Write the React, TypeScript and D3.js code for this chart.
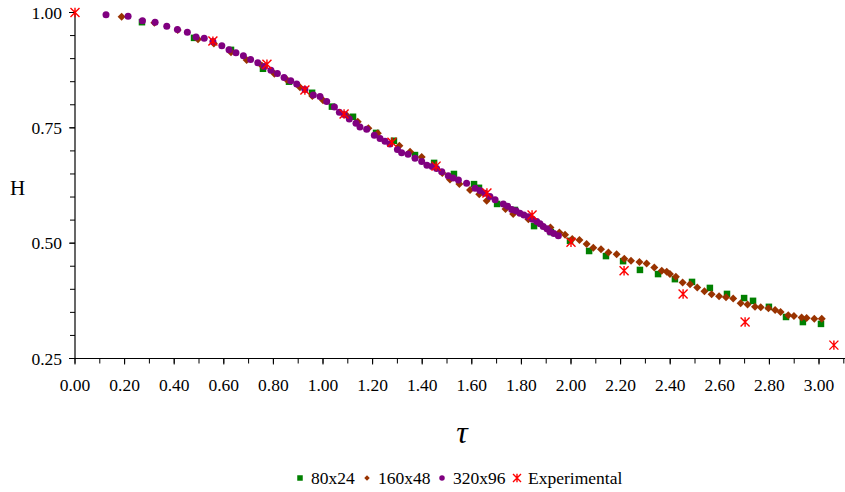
import React from "react";
import * as d3 from "d3";

// ---- Data ----
const tau80 = [0.270, 0.480, 0.629, 0.758, 0.863, 0.956, 1.036, 1.121, 1.214, 1.286, 1.371, 1.448, 1.528, 1.609, 1.629, 1.702, 1.774, 1.851, 1.919, 1.996, 2.073, 2.141, 2.210, 2.278, 2.351, 2.419, 2.488, 2.560, 2.629, 2.698, 2.734, 2.798, 2.867, 2.935, 3.008];
const h80 = [0.979, 0.945, 0.919, 0.878, 0.850, 0.826, 0.796, 0.774, 0.739, 0.722, 0.691, 0.674, 0.650, 0.628, 0.620, 0.585, 0.572, 0.537, 0.524, 0.505, 0.483, 0.472, 0.461, 0.442, 0.433, 0.422, 0.416, 0.403, 0.390, 0.381, 0.375, 0.362, 0.340, 0.329, 0.325];

const tau160 = [0.188, 0.320, 0.414, 0.496, 0.560, 0.629, 0.692, 0.753, 0.804, 0.854, 0.907, 0.957, 1.000, 1.096, 1.140, 1.183, 1.221, 1.308, 1.351, 1.398, 1.481, 1.512, 1.550, 1.593, 1.630, 1.660, 1.736, 1.767, 1.828, 1.917, 1.953,
  1.976, 2.005, 2.034, 2.063, 2.090, 2.121, 2.151, 2.184, 2.215, 2.242, 2.276, 2.305, 2.336, 2.366, 2.386, 2.399, 2.423, 2.450, 2.480, 2.509, 2.538, 2.567, 2.597, 2.625, 2.654, 2.684, 2.712, 2.742, 2.765, 2.796, 2.823, 2.845, 2.876, 2.899, 2.930, 2.950, 2.981, 3.011];
const h160 = [0.991, 0.978, 0.962, 0.942, 0.933, 0.914, 0.897, 0.885, 0.867, 0.854, 0.838, 0.819, 0.810, 0.777, 0.763, 0.749, 0.738, 0.711, 0.698, 0.687, 0.652, 0.638, 0.628, 0.615, 0.606, 0.592, 0.574, 0.563, 0.552, 0.534, 0.523,
  0.518, 0.509, 0.507, 0.498, 0.490, 0.487, 0.480, 0.476, 0.466, 0.462, 0.459, 0.456, 0.447, 0.440, 0.438, 0.433, 0.427, 0.415, 0.411, 0.404, 0.396, 0.389, 0.385, 0.383, 0.380, 0.370, 0.367, 0.362, 0.361, 0.359, 0.355, 0.351, 0.344, 0.342, 0.339, 0.338, 0.336, 0.336];

const tau320 = [0.125, 0.214, 0.272, 0.323, 0.370, 0.413, 0.453, 0.488, 0.521, 0.556, 0.592, 0.621, 0.649, 0.679, 0.708, 0.737, 0.764, 0.790, 0.816, 0.843, 0.870, 0.894, 0.927, 0.961, 0.988, 1.015, 1.046, 1.066, 1.085, 1.106, 1.133, 1.149, 1.176, 1.207, 1.230, 1.250, 1.270, 1.300, 1.317, 1.343, 1.371, 1.398, 1.419, 1.440, 1.458, 1.479, 1.505, 1.525, 1.546, 1.579, 1.613, 1.633, 1.653, 1.673, 1.694, 1.727, 1.744, 1.761, 1.778, 1.794, 1.810, 1.828, 1.845, 1.862, 1.875, 1.888, 1.903, 1.915, 1.931, 1.949];
const h320 = [0.995, 0.992, 0.982, 0.979, 0.970, 0.963, 0.957, 0.947, 0.944, 0.937, 0.928, 0.919, 0.913, 0.906, 0.898, 0.891, 0.883, 0.875, 0.868, 0.859, 0.852, 0.845, 0.833, 0.821, 0.818, 0.807, 0.795, 0.784, 0.779, 0.769, 0.760, 0.752, 0.747, 0.734, 0.727, 0.721, 0.715, 0.703, 0.696, 0.693, 0.684, 0.677, 0.669, 0.666, 0.662, 0.655, 0.646, 0.641, 0.637, 0.630, 0.619, 0.614, 0.608, 0.601, 0.594, 0.585, 0.580, 0.573, 0.570, 0.565, 0.561, 0.557, 0.552, 0.547, 0.542, 0.536, 0.531, 0.525, 0.521, 0.516];

const tauExp = [0.0, 0.556, 0.774, 0.927, 1.085, 1.278, 1.456, 1.661, 1.843, 2.0, 2.214, 2.452, 2.702, 3.06];
const hExp = [1.0, 0.938, 0.888, 0.832, 0.780, 0.719, 0.667, 0.609, 0.561, 0.502, 0.440, 0.390, 0.329, 0.279];

const xTicks = d3.range(0, 16).map((i) => i * 0.2);
const xMinorTicks = d3.range(0, 32).map((i) => i * 0.1);
const yTicks = [0.25, 0.5, 0.75, 1.0];
const yMinorTicks = d3.range(0, 16).map((i) => 0.25 + i * 0.05);

const legendItems = [
  { key: "80x24", label: "80x24", color: "#008000", shape: "square" },
  { key: "160x48", label: "160x48", color: "#993300", shape: "diamond" },
  { key: "320x96", label: "320x96", color: "#800080", shape: "circle" },
  { key: "exp", label: "Experimental", color: "#FF0000", shape: "star" },
];

const W = 845;
const H = 492;
const FONT = '"Liberation Serif", "Times New Roman", Times, "DejaVu Serif", serif';
const TXT = { fontFamily: FONT } as React.CSSProperties;
const FS = 17.5;

function Marker({ shape, color, x, y, s }: { shape: string; color: string; x: number; y: number; s: number }) {
  if (shape === "square") {
    return <rect x={x - s / 2} y={y - s / 2} width={s} height={s} fill={color} />;
  }
  if (shape === "diamond") {
    const r = s / 2;
    return <path d={`M${x},${y - r}L${x + r},${y}L${x},${y + r}L${x - r},${y}Z`} fill={color} />;
  }
  if (shape === "circle") {
    return <circle cx={x} cy={y} r={s / 2} fill={color} />;
  }
  const r = s / 2;
  return (
    <path
      d={`M${x - r},${y - r}L${x + r},${y + r}M${x - r},${y + r}L${x + r},${y - r}M${x},${y - r * 1.05}L${x},${y + r * 1.05}`}
      stroke={color}
      strokeWidth={1.4}
      fill="none"
    />
  );
}

export default function App() {
  const x = d3.scaleLinear().domain([0, 3.1]).range([75, 75 + 3.1 * 248]);
  const y = d3.scaleLinear().domain([0.25, 1.0]).range([358.5, 12.5]);
  const x0 = x(0);
  const yb = y(0.25);

  const series = [
    { t: tau80, h: h80, shape: "square", color: "#008000", s: 6.5 },
    { t: tau160, h: h160, shape: "diamond", color: "#993300", s: 8 },
    { t: tau320, h: h320, shape: "circle", color: "#800080", s: 7 },
    { t: tauExp, h: hExp, shape: "star", color: "#FF0000", s: 9 },
  ];

  return (
    <svg width={W} height={H} style={{ position: "absolute", left: 0, top: 0, background: "#fff" }}>
      <rect width={W} height={H} fill="#fff" />
      {/* Y axis */}
      <line x1={x0} x2={x0} y1={y(1.0)} y2={yb} stroke="#000" strokeWidth={1.2} />
      {yMinorTicks.map((v, i) => (
        <line key={"ym" + i} x1={x0 - 5} x2={x0} y1={y(v)} y2={y(v)} stroke="#000" strokeWidth={1} />
      ))}
      {yTicks.map((v) => (
        <g key={"y" + v}>
          <line x1={x0 - 6} x2={x0} y1={y(v)} y2={y(v)} stroke="#000" strokeWidth={1} />
          <text x={62} y={y(v)} dy="0.35em" textAnchor="end" fontSize={FS} fill="#000" style={TXT}>
            {d3.format(".2f")(v)}
          </text>
        </g>
      ))}
      {/* X axis */}
      <line x1={x0} x2={W} y1={yb} y2={yb} stroke="#000" strokeWidth={1.2} />
      {xMinorTicks.map((v, i) => (
        <line key={"xm" + i} x1={x(v)} x2={x(v)} y1={yb} y2={yb + 5} stroke="#000" strokeWidth={1} />
      ))}
      {xTicks.map((v, i) => (
        <g key={"x" + i}>
          <line x1={x(v)} x2={x(v)} y1={yb} y2={yb + 6} stroke="#000" strokeWidth={1} />
          <text x={x(v)} y={391} textAnchor="middle" fontSize={FS} fill="#000" style={TXT}>
            {d3.format(".2f")(v)}
          </text>
        </g>
      ))}
      {/* Axis titles */}
      <text x={17.5} y={195} textAnchor="middle" fontSize={21} fill="#000" style={TXT}>H</text>
      <text x={462} y={443} textAnchor="middle" fontSize={32} fontStyle="italic" fill="#000" style={TXT}>τ</text>
      {/* Data */}
      {series.map((sr, si) => (
        <g key={"s" + si}>
          {sr.t.map((t, i) => (
            <Marker key={i} shape={sr.shape} color={sr.color} x={x(t)} y={y(sr.h[i])} s={sr.s} />
          ))}
        </g>
      ))}
      {/* Legend */}
      {legendItems.map((it, i) => {
        const mx = [300, 367, 442, 517][i];
        return (
          <g key={it.key}>
            <Marker shape={it.shape} color={it.color} x={mx} y={478} s={it.shape === "star" ? 8 : 5.5} />
            <text x={mx + 11} y={478} dy="0.35em" fontSize={FS} fill="#000" style={TXT}>{it.label}</text>
          </g>
        );
      })}
    </svg>
  );
}
